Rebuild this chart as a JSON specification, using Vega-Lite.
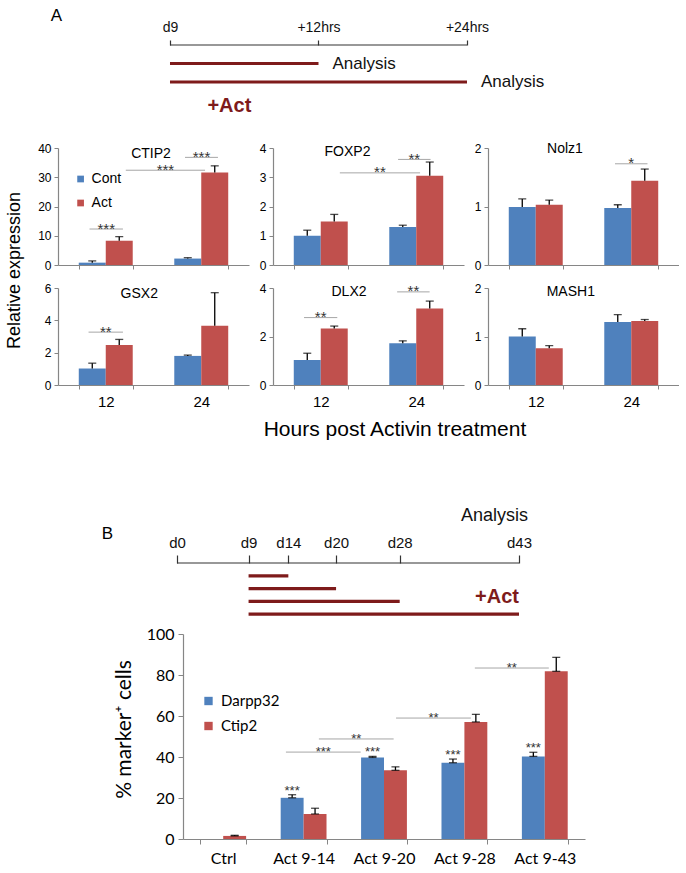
{
"$schema":"https://vega.github.io/schema/vega-lite/v6.json",
"background":"white",
"padding":{"left":4,"top":6,"right":0,"bottom":0},
"datasets":{
"expr":[
{"gene":"CTIP2","h":"12","cond":"Cont","value":0.8,"hi":1.4},
{"gene":"CTIP2","h":"12","cond":"Act","value":8.3,"hi":9.7},
{"gene":"CTIP2","h":"24","cond":"Cont","value":2.2,"hi":2.5},
{"gene":"CTIP2","h":"24","cond":"Act","value":31.6,"hi":33.9},
{"gene":"FOXP2","h":"12","cond":"Cont","value":1.0,"hi":1.19},
{"gene":"FOXP2","h":"12","cond":"Act","value":1.49,"hi":1.73},
{"gene":"FOXP2","h":"24","cond":"Cont","value":1.3,"hi":1.36},
{"gene":"FOXP2","h":"24","cond":"Act","value":3.05,"hi":3.52},
{"gene":"Nolz1","h":"12","cond":"Cont","value":0.99,"hi":1.13},
{"gene":"Nolz1","h":"12","cond":"Act","value":1.03,"hi":1.11},
{"gene":"Nolz1","h":"24","cond":"Cont","value":0.975,"hi":1.03},
{"gene":"Nolz1","h":"24","cond":"Act","value":1.44,"hi":1.64},
{"gene":"GSX2","h":"12","cond":"Cont","value":1.02,"hi":1.35},
{"gene":"GSX2","h":"12","cond":"Act","value":2.47,"hi":2.82},
{"gene":"GSX2","h":"24","cond":"Cont","value":1.8,"hi":1.85},
{"gene":"GSX2","h":"24","cond":"Act","value":3.67,"hi":5.71},
{"gene":"DLX2","h":"12","cond":"Cont","value":1.03,"hi":1.31},
{"gene":"DLX2","h":"12","cond":"Act","value":2.33,"hi":2.43},
{"gene":"DLX2","h":"24","cond":"Cont","value":1.72,"hi":1.82},
{"gene":"DLX2","h":"24","cond":"Act","value":3.15,"hi":3.46},
{"gene":"MASH1","h":"12","cond":"Cont","value":1.0,"hi":1.16},
{"gene":"MASH1","h":"12","cond":"Act","value":0.76,"hi":0.81},
{"gene":"MASH1","h":"24","cond":"Cont","value":1.3,"hi":1.45},
{"gene":"MASH1","h":"24","cond":"Act","value":1.32,"hi":1.35}
],
"sigA":[
{"gene":"CTIP2","x1":0.33,"x2":0.68,"y":12.3,"label":"***"},
{"gene":"CTIP2","x1":0.71,"x2":1.54,"y":32.4,"label":"***"},
{"gene":"CTIP2","x1":1.33,"x2":1.675,"y":36.8,"label":"***"},
{"gene":"FOXP2","x1":0.70,"x2":1.54,"y":3.15,"label":"**"},
{"gene":"FOXP2","x1":1.31,"x2":1.65,"y":3.61,"label":"**"},
{"gene":"Nolz1","x1":1.33,"x2":1.67,"y":1.73,"label":"*"},
{"gene":"GSX2","x1":0.32,"x2":0.68,"y":3.27,"label":"**"},
{"gene":"DLX2","x1":0.325,"x2":0.673,"y":2.78,"label":"**"},
{"gene":"DLX2","x1":1.30,"x2":1.64,"y":3.84,"label":"**"}
],
"cellsB":[
{"cat":"Ctrl","series":"Darpp32","value":0},
{"cat":"Ctrl","series":"Ctip2","value":1.5,"hi":1.8},
{"cat":"Act 9-14","series":"Darpp32","value":20.1,"hi":21.6,"sig":"***"},
{"cat":"Act 9-14","series":"Ctip2","value":12.2,"hi":15.0},
{"cat":"Act 9-20","series":"Darpp32","value":39.8,"hi":40.3,"sig":"***"},
{"cat":"Act 9-20","series":"Ctip2","value":33.5,"hi":35.2},
{"cat":"Act 9-28","series":"Darpp32","value":37.2,"hi":39.0,"sig":"***"},
{"cat":"Act 9-28","series":"Ctip2","value":57.1,"hi":60.8},
{"cat":"Act 9-43","series":"Darpp32","value":40.3,"hi":42.3,"sig":"***"},
{"cat":"Act 9-43","series":"Ctip2","value":81.8,"hi":88.6}
],
"sigB":[
{"x1":1.28,"x2":2.21,"y":42.4,"label":"***"},
{"x1":1.69,"x2":2.62,"y":48.8,"label":"**"},
{"x1":2.65,"x2":3.58,"y":59,"label":"**"},
{"x1":3.63,"x2":4.55,"y":83.4,"label":"**"}
]
},
"vconcat":[
{"vconcat":[
 {"width":409,"height":74,
  "layer":[
   {"data":{"values":[{"t0":0,"t1":24,"lane":0}]},
    "mark":{"type":"rule","color":"#333333","strokeWidth":1.2},
    "encoding":{
     "x":{"field":"t0","type":"quantitative","scale":{"domain":[-9.05,24],"nice":false,"zero":false},
      "axis":{"orient":"top","values":[0,12,24],"labelExpr":"datum.value == 0 ? 'd9' : datum.value == 12 ? '+12hrs' : '+24hrs'","domain":false,"tickColor":"#333333","tickWidth":1.2,"tickSize":5,"labelFont":"Liberation Sans Narrow, Arial Narrow, sans-serif","labelFontSize":14,"labelPadding":6,"labelColor":"#111111","labelFlush":false,"labelOverlap":false,"title":"A","titleX":-2,"titleY":-30,"titleAngle":0,"titleAlign":"center","titleBaseline":"middle","titleFontSize":17}},
     "x2":{"field":"t1"},
     "y":{"field":"lane","type":"quantitative","scale":{"domain":[0,4],"reverse":true,"nice":false,"zero":false},"axis":null}}},
   {"data":{"values":[{"t0":0,"t1":12,"lane":1,"label":"Analysis"},{"t0":0,"t1":24,"lane":2,"label":"Analysis"}]},
    "encoding":{"y":{"field":"lane","type":"quantitative","scale":{"domain":[0,4],"reverse":true,"nice":false,"zero":false},"axis":null}},
    "layer":[
     {"mark":{"type":"rule","color":"#7E1B1B","strokeWidth":3.2},
      "encoding":{"x":{"field":"t0","type":"quantitative","scale":{"domain":[-9.05,24],"nice":false,"zero":false}},"x2":{"field":"t1"}}},
     {"mark":{"type":"text","align":"left","dx":14,"baseline":"middle","font":"Liberation Sans","fontSize":17,"color":"#111111"},
      "encoding":{"x":{"field":"t1","type":"quantitative","scale":{"domain":[-9.05,24],"nice":false,"zero":false}},"text":{"field":"label"}}}
    ]},
   {"data":{"values":[{"t":4.8,"lane":3.3,"label":"+Act"}]},
    "mark":{"type":"text","baseline":"middle","font":"Liberation Sans Narrow, Arial Narrow, sans-serif","fontWeight":"bold","fontSize":20,"color":"#7E1B1B"},
    "encoding":{"x":{"field":"t","type":"quantitative","scale":{"domain":[-9.05,24],"nice":false,"zero":false}},
     "y":{"field":"lane","type":"quantitative","scale":{"domain":[0,4],"reverse":true,"nice":false,"zero":false},"axis":null},
     "text":{"field":"label"}}}
  ]},
 {"concat":[
  {"width":191,"height":117,
   "layer":[
    {"data":{"name":"expr"},"transform":[{"filter":"datum.gene === 'CTIP2'"}],
     "encoding":{
      "x":{"field":"h","type":"nominal","scale":{"domain":["12","24"],"paddingInner":0.435,"paddingOuter":0.2175},"axis":{"title":null,"labels":false,"tickBand":"extent"}},
      "xOffset":{"field":"cond","type":"nominal","scale":{"domain":["Cont","Act"]}}},
     "layer":[
      {"mark":"bar","encoding":{"y":{"field":"value","type":"quantitative","scale":{"domain":[0,40],"nice":false},"axis":{"values":[0,10,20,30,40],"title":null}},
        "color":{"field":"cond","type":"nominal","scale":{"domain":["Cont","Act"],"range":["#4F81BD","#C0504D"]},
         "legend":{"title":null,"orient":"none","legendX":15.6,"legendY":24,"symbolType":"square","symbolSize":45,"symbolStrokeWidth":0,"labelFont":"Liberation Sans","labelFontSize":14,"labelOffset":4,"rowPadding":10,"labelColor":"#000000"}}}},
      {"mark":{"type":"rule","color":"#000000","strokeWidth":1.3},"encoding":{"y":{"field":"value","type":"quantitative","scale":{"domain":[0,40],"nice":false},"axis":{"values":[0,10,20,30,40],"title":null}},"y2":{"field":"hi"}}},
      {"mark":{"type":"tick","color":"#000000","thickness":1.3,"size":8},"encoding":{"y":{"field":"hi","type":"quantitative","scale":{"domain":[0,40],"nice":false},"axis":{"values":[0,10,20,30,40],"title":null}}}}
     ]},
    {"layer":[
     {"data":{"name":"sigA"},"transform":[{"filter":"datum.gene === 'CTIP2'"},{"calculate":"(datum.x1 + datum.x2) / 2","as":"xm"}],
      "encoding":{"y":{"field":"y","type":"quantitative","scale":{"domain":[0,40],"nice":false},"axis":{"values":[0,10,20,30,40],"title":null}}},
      "layer":[
       {"mark":{"type":"rule","color":"#A6A6A6","strokeWidth":1},"encoding":{"x":{"field":"x1","type":"quantitative","scale":{"domain":[0,2],"nice":false,"zero":false},"axis":null},"x2":{"field":"x2"}}},
       {"mark":{"type":"text","fontSize":15,"dy":4.5,"baseline":"alphabetic","color":"#333333"},"encoding":{"x":{"field":"xm","type":"quantitative","scale":{"domain":[0,2],"nice":false,"zero":false},"axis":null},"text":{"field":"label"}}}
      ]},
     {"data":{"values":[{"name":"CTIP2"}]},"mark":{"type":"text","fontSize":14,"baseline":"middle","dy":6,"color":"#000000"},
      "encoding":{"x":{"datum":0.974,"type":"quantitative","scale":{"domain":[0,2],"nice":false,"zero":false},"axis":null},"y":{"datum":40,"type":"quantitative","scale":{"domain":[0,40],"nice":false},"axis":{"values":[0,10,20,30,40],"title":null}},"text":{"field":"name"}}}
    ]}
   ],
   "resolve":{"scale":{"x":"independent"}}},
  {"width":191,"height":117,
   "layer":[
    {"data":{"name":"expr"},"transform":[{"filter":"datum.gene === 'FOXP2'"}],
     "encoding":{
      "x":{"field":"h","type":"nominal","scale":{"domain":["12","24"],"paddingInner":0.435,"paddingOuter":0.2175},"axis":{"title":null,"labels":false,"tickBand":"extent"}},
      "xOffset":{"field":"cond","type":"nominal","scale":{"domain":["Cont","Act"]}}},
     "layer":[
      {"mark":"bar","encoding":{"y":{"field":"value","type":"quantitative","scale":{"domain":[0,4],"nice":false},"axis":{"values":[0,1,2,3,4],"title":null}},
        "color":{"field":"cond","type":"nominal","scale":{"domain":["Cont","Act"],"range":["#4F81BD","#C0504D"]},"legend":null}}},
      {"mark":{"type":"rule","color":"#000000","strokeWidth":1.3},"encoding":{"y":{"field":"value","type":"quantitative","scale":{"domain":[0,4],"nice":false},"axis":{"values":[0,1,2,3,4],"title":null}},"y2":{"field":"hi"}}},
      {"mark":{"type":"tick","color":"#000000","thickness":1.3,"size":8},"encoding":{"y":{"field":"hi","type":"quantitative","scale":{"domain":[0,4],"nice":false},"axis":{"values":[0,1,2,3,4],"title":null}}}}
     ]},
    {"layer":[
     {"data":{"name":"sigA"},"transform":[{"filter":"datum.gene === 'FOXP2'"},{"calculate":"(datum.x1 + datum.x2) / 2","as":"xm"}],
      "encoding":{"y":{"field":"y","type":"quantitative","scale":{"domain":[0,4],"nice":false},"axis":{"values":[0,1,2,3,4],"title":null}}},
      "layer":[
       {"mark":{"type":"rule","color":"#A6A6A6","strokeWidth":1},"encoding":{"x":{"field":"x1","type":"quantitative","scale":{"domain":[0,2],"nice":false,"zero":false},"axis":null},"x2":{"field":"x2"}}},
       {"mark":{"type":"text","fontSize":15,"dy":4.5,"baseline":"alphabetic","color":"#333333"},"encoding":{"x":{"field":"xm","type":"quantitative","scale":{"domain":[0,2],"nice":false,"zero":false},"axis":null},"text":{"field":"label"}}}
      ]},
     {"data":{"values":[{"name":"FOXP2"}]},"mark":{"type":"text","fontSize":14,"baseline":"middle","dy":4.3,"color":"#000000"},
      "encoding":{"x":{"datum":0.78,"type":"quantitative","scale":{"domain":[0,2],"nice":false,"zero":false},"axis":null},"y":{"datum":4,"type":"quantitative","scale":{"domain":[0,4],"nice":false},"axis":{"values":[0,1,2,3,4],"title":null}},"text":{"field":"name"}}}
    ]}
   ],
   "resolve":{"scale":{"x":"independent"}}},
  {"width":191,"height":117,
   "layer":[
    {"data":{"name":"expr"},"transform":[{"filter":"datum.gene === 'Nolz1'"}],
     "encoding":{
      "x":{"field":"h","type":"nominal","scale":{"domain":["12","24"],"paddingInner":0.435,"paddingOuter":0.2175},"axis":{"title":null,"labels":false,"tickBand":"extent"}},
      "xOffset":{"field":"cond","type":"nominal","scale":{"domain":["Cont","Act"]}}},
     "layer":[
      {"mark":"bar","encoding":{"y":{"field":"value","type":"quantitative","scale":{"domain":[0,2],"nice":false},"axis":{"values":[0,1,2],"labelExpr":"'' + datum.value","title":null}},
        "color":{"field":"cond","type":"nominal","scale":{"domain":["Cont","Act"],"range":["#4F81BD","#C0504D"]},"legend":null}}},
      {"mark":{"type":"rule","color":"#000000","strokeWidth":1.3},"encoding":{"y":{"field":"value","type":"quantitative","scale":{"domain":[0,2],"nice":false},"axis":{"values":[0,1,2],"labelExpr":"'' + datum.value","title":null}},"y2":{"field":"hi"}}},
      {"mark":{"type":"tick","color":"#000000","thickness":1.3,"size":8},"encoding":{"y":{"field":"hi","type":"quantitative","scale":{"domain":[0,2],"nice":false},"axis":{"values":[0,1,2],"labelExpr":"'' + datum.value","title":null}}}}
     ]},
    {"layer":[
     {"data":{"name":"sigA"},"transform":[{"filter":"datum.gene === 'Nolz1'"},{"calculate":"(datum.x1 + datum.x2) / 2","as":"xm"}],
      "encoding":{"y":{"field":"y","type":"quantitative","scale":{"domain":[0,2],"nice":false},"axis":{"values":[0,1,2],"labelExpr":"'' + datum.value","title":null}}},
      "layer":[
       {"mark":{"type":"rule","color":"#A6A6A6","strokeWidth":1},"encoding":{"x":{"field":"x1","type":"quantitative","scale":{"domain":[0,2],"nice":false,"zero":false},"axis":null},"x2":{"field":"x2"}}},
       {"mark":{"type":"text","fontSize":15,"dy":4.5,"baseline":"alphabetic","color":"#333333"},"encoding":{"x":{"field":"xm","type":"quantitative","scale":{"domain":[0,2],"nice":false,"zero":false},"axis":null},"text":{"field":"label"}}}
      ]},
     {"data":{"values":[{"name":"Nolz1"}]},"mark":{"type":"text","fontSize":14,"baseline":"middle","dy":1,"color":"#000000"},
      "encoding":{"x":{"datum":0.806,"type":"quantitative","scale":{"domain":[0,2],"nice":false,"zero":false},"axis":null},"y":{"datum":2,"type":"quantitative","scale":{"domain":[0,2],"nice":false},"axis":{"values":[0,1,2],"labelExpr":"'' + datum.value","title":null}},"text":{"field":"name"}}}
    ]}
   ],
   "resolve":{"scale":{"x":"independent"}}},
  {"width":191,"height":97,
   "layer":[
    {"data":{"name":"expr"},"transform":[{"filter":"datum.gene === 'GSX2'"}],
     "encoding":{
      "x":{"field":"h","type":"nominal","scale":{"domain":["12","24"],"paddingInner":0.435,"paddingOuter":0.2175},"axis":{"title":null,"tickBand":"extent","labelAngle":0,"labelFontSize":15,"labelPadding":5}},
      "xOffset":{"field":"cond","type":"nominal","scale":{"domain":["Cont","Act"]}}},
     "layer":[
      {"mark":"bar","encoding":{"y":{"field":"value","type":"quantitative","scale":{"domain":[0,6],"nice":false},"axis":{"values":[0,2,4,6],"title":"Relative expression","titleX":-44,"titleY":-18,"titleFontSize":18,"titleBaseline":"middle","titleAlign":"center"}},
        "color":{"field":"cond","type":"nominal","scale":{"domain":["Cont","Act"],"range":["#4F81BD","#C0504D"]},"legend":null}}},
      {"mark":{"type":"rule","color":"#000000","strokeWidth":1.3},"encoding":{"y":{"field":"value","type":"quantitative","scale":{"domain":[0,6],"nice":false},"axis":{"values":[0,2,4,6],"title":"Relative expression","titleX":-44,"titleY":-18,"titleFontSize":18,"titleBaseline":"middle","titleAlign":"center"}},"y2":{"field":"hi"}}},
      {"mark":{"type":"tick","color":"#000000","thickness":1.3,"size":8},"encoding":{"y":{"field":"hi","type":"quantitative","scale":{"domain":[0,6],"nice":false},"axis":{"values":[0,2,4,6],"title":"Relative expression","titleX":-44,"titleY":-18,"titleFontSize":18,"titleBaseline":"middle","titleAlign":"center"}}}}
     ]},
    {"layer":[
     {"data":{"name":"sigA"},"transform":[{"filter":"datum.gene === 'GSX2'"},{"calculate":"(datum.x1 + datum.x2) / 2","as":"xm"}],
      "encoding":{"y":{"field":"y","type":"quantitative","scale":{"domain":[0,6],"nice":false},"axis":{"values":[0,2,4,6],"title":"Relative expression","titleX":-44,"titleY":-18,"titleFontSize":18,"titleBaseline":"middle","titleAlign":"center"}}},
      "layer":[
       {"mark":{"type":"rule","color":"#A6A6A6","strokeWidth":1},"encoding":{"x":{"field":"x1","type":"quantitative","scale":{"domain":[0,2],"nice":false,"zero":false},"axis":null},"x2":{"field":"x2"}}},
       {"mark":{"type":"text","fontSize":15,"dy":4.5,"baseline":"alphabetic","color":"#333333"},"encoding":{"x":{"field":"xm","type":"quantitative","scale":{"domain":[0,2],"nice":false,"zero":false},"axis":null},"text":{"field":"label"}}}
      ]},
     {"data":{"values":[{"name":"GSX2"}]},"mark":{"type":"text","fontSize":14,"baseline":"middle","dy":6,"color":"#000000"},
      "encoding":{"x":{"datum":0.851,"type":"quantitative","scale":{"domain":[0,2],"nice":false,"zero":false},"axis":null},"y":{"datum":6,"type":"quantitative","scale":{"domain":[0,6],"nice":false},"axis":{"values":[0,2,4,6],"title":"Relative expression","titleX":-44,"titleY":-18,"titleFontSize":18,"titleBaseline":"middle","titleAlign":"center"}},"text":{"field":"name"}}}
    ]}
   ],
   "resolve":{"scale":{"x":"independent"}}},
  {"width":191,"height":97,
   "layer":[
    {"data":{"name":"expr"},"transform":[{"filter":"datum.gene === 'DLX2'"}],
     "encoding":{
      "x":{"field":"h","type":"nominal","scale":{"domain":["12","24"],"paddingInner":0.435,"paddingOuter":0.2175},"axis":{"tickBand":"extent","labelAngle":0,"labelFontSize":15,"labelPadding":5,"title":"Hours post Activin treatment","titleX":121.5,"titleY":44,"titleFontSize":21,"titleBaseline":"middle","titleAlign":"center"}},
      "xOffset":{"field":"cond","type":"nominal","scale":{"domain":["Cont","Act"]}}},
     "layer":[
      {"mark":"bar","encoding":{"y":{"field":"value","type":"quantitative","scale":{"domain":[0,4],"nice":false},"axis":{"values":[0,2,4],"title":null}},
        "color":{"field":"cond","type":"nominal","scale":{"domain":["Cont","Act"],"range":["#4F81BD","#C0504D"]},"legend":null}}},
      {"mark":{"type":"rule","color":"#000000","strokeWidth":1.3},"encoding":{"y":{"field":"value","type":"quantitative","scale":{"domain":[0,4],"nice":false},"axis":{"values":[0,2,4],"title":null}},"y2":{"field":"hi"}}},
      {"mark":{"type":"tick","color":"#000000","thickness":1.3,"size":8},"encoding":{"y":{"field":"hi","type":"quantitative","scale":{"domain":[0,4],"nice":false},"axis":{"values":[0,2,4],"title":null}}}}
     ]},
    {"layer":[
     {"data":{"name":"sigA"},"transform":[{"filter":"datum.gene === 'DLX2'"},{"calculate":"(datum.x1 + datum.x2) / 2","as":"xm"}],
      "encoding":{"y":{"field":"y","type":"quantitative","scale":{"domain":[0,4],"nice":false},"axis":{"values":[0,2,4],"title":null}}},
      "layer":[
       {"mark":{"type":"rule","color":"#A6A6A6","strokeWidth":1},"encoding":{"x":{"field":"x1","type":"quantitative","scale":{"domain":[0,2],"nice":false,"zero":false},"axis":null},"x2":{"field":"x2"}}},
       {"mark":{"type":"text","fontSize":15,"dy":4.5,"baseline":"alphabetic","color":"#333333"},"encoding":{"x":{"field":"xm","type":"quantitative","scale":{"domain":[0,2],"nice":false,"zero":false},"axis":null},"text":{"field":"label"}}}
      ]},
     {"data":{"values":[{"name":"DLX2"}]},"mark":{"type":"text","fontSize":14,"baseline":"middle","dy":4.3,"color":"#000000"},
      "encoding":{"x":{"datum":0.796,"type":"quantitative","scale":{"domain":[0,2],"nice":false,"zero":false},"axis":null},"y":{"datum":4,"type":"quantitative","scale":{"domain":[0,4],"nice":false},"axis":{"values":[0,2,4],"title":null}},"text":{"field":"name"}}}
    ]}
   ],
   "resolve":{"scale":{"x":"independent"}}},
  {"width":191,"height":97,
   "layer":[
    {"data":{"name":"expr"},"transform":[{"filter":"datum.gene === 'MASH1'"}],
     "encoding":{
      "x":{"field":"h","type":"nominal","scale":{"domain":["12","24"],"paddingInner":0.435,"paddingOuter":0.2175},"axis":{"title":null,"tickBand":"extent","labelAngle":0,"labelFontSize":15,"labelPadding":5}},
      "xOffset":{"field":"cond","type":"nominal","scale":{"domain":["Cont","Act"]}}},
     "layer":[
      {"mark":"bar","encoding":{"y":{"field":"value","type":"quantitative","scale":{"domain":[0,2],"nice":false},"axis":{"values":[0,1,2],"labelExpr":"'' + datum.value","title":null}},
        "color":{"field":"cond","type":"nominal","scale":{"domain":["Cont","Act"],"range":["#4F81BD","#C0504D"]},"legend":null}}},
      {"mark":{"type":"rule","color":"#000000","strokeWidth":1.3},"encoding":{"y":{"field":"value","type":"quantitative","scale":{"domain":[0,2],"nice":false},"axis":{"values":[0,1,2],"labelExpr":"'' + datum.value","title":null}},"y2":{"field":"hi"}}},
      {"mark":{"type":"tick","color":"#000000","thickness":1.3,"size":8},"encoding":{"y":{"field":"hi","type":"quantitative","scale":{"domain":[0,2],"nice":false},"axis":{"values":[0,1,2],"labelExpr":"'' + datum.value","title":null}}}}
     ]},
    {"data":{"values":[{"name":"MASH1"}]},"mark":{"type":"text","fontSize":14,"baseline":"middle","dy":4.3,"color":"#000000"},
     "encoding":{"x":{"datum":0.867,"type":"quantitative","scale":{"domain":[0,2],"nice":false,"zero":false},"axis":null},"y":{"datum":2,"type":"quantitative","scale":{"domain":[0,2],"nice":false},"axis":{"values":[0,1,2],"labelExpr":"'' + datum.value","title":null}},"text":{"field":"name"}}}
   ],
   "resolve":{"scale":{"x":"independent"}}}
 ],
 "columns":3,"spacing":{"row":23,"column":24},"bounds":"flush",
 "resolve":{"scale":{"color":"independent","xOffset":"independent"},"legend":{"color":"independent"}}}
],
"spacing":23,"bounds":"full",
"resolve":{"scale":{"color":"independent","xOffset":"independent"},"legend":{"color":"independent"}}},
{"vconcat":[
 {"width":461,"height":55,
  "layer":[
   {"data":{"values":[{"t0":0,"t1":43,"lane":0}]},
    "mark":{"type":"rule","color":"#333333","strokeWidth":1.2},
    "encoding":{
     "x":{"field":"t0","type":"quantitative","scale":{"domain":[-14.96,43],"nice":false,"zero":false},
      "axis":{"orient":"top","values":[0,9,14,20,28,43],"labelExpr":"'d' + datum.value","domain":false,"tickColor":"#333333","tickWidth":1.2,"tickSize":8,"labelFont":"Liberation Sans Narrow, Arial Narrow, sans-serif","labelFontSize":15,"labelPadding":5,"labelColor":"#111111","labelFlush":false,"labelOverlap":false,"title":"B","titleX":49,"titleY":-30,"titleAngle":0,"titleAlign":"center","titleBaseline":"middle","titleFontSize":17}},
     "x2":{"field":"t1"},
     "y":{"field":"lane","type":"quantitative","scale":{"domain":[0,4.3],"reverse":true,"nice":false,"zero":false},"axis":null}}},
   {"data":{"values":[{"t0":9,"t1":14,"lane":1},{"t0":9,"t1":20,"lane":2},{"t0":9,"t1":28,"lane":3},{"t0":9,"t1":43,"lane":4}]},
    "mark":{"type":"rule","color":"#7E1B1B","strokeWidth":3.2},
    "encoding":{"x":{"field":"t0","type":"quantitative","scale":{"domain":[-14.96,43],"nice":false,"zero":false}},"x2":{"field":"t1"},
     "y":{"field":"lane","type":"quantitative","scale":{"domain":[0,4.3],"reverse":true,"nice":false,"zero":false},"axis":null}}},
   {"data":{"values":[{"t":43,"lane":-3.7,"label":"Analysis"}]},
    "mark":{"type":"text","align":"right","dx":9,"baseline":"middle","font":"Liberation Sans","fontSize":18,"color":"#111111"},
    "encoding":{"x":{"field":"t","type":"quantitative","scale":{"domain":[-14.96,43],"nice":false,"zero":false}},
     "y":{"field":"lane","type":"quantitative","scale":{"domain":[0,4.3],"reverse":true,"nice":false,"zero":false},"axis":null},
     "text":{"field":"label"}}},
   {"data":{"values":[{"t":43,"lane":2.68,"label":"+Act"}]},
    "mark":{"type":"text","align":"right","baseline":"middle","font":"Liberation Sans Narrow, Arial Narrow, sans-serif","fontWeight":"bold","fontSize":20,"color":"#7E1B1B"},
    "encoding":{"x":{"field":"t","type":"quantitative","scale":{"domain":[-14.96,43],"nice":false,"zero":false}},
     "y":{"field":"lane","type":"quantitative","scale":{"domain":[0,4.3],"reverse":true,"nice":false,"zero":false},"axis":null},
     "text":{"field":"label"}}}
  ]},
 {"hconcat":[
  {"width":1,"height":205,"data":{"values":[]},"mark":"point"},
  {"width":402,"height":205,
   "layer":[
    {"data":{"name":"cellsB"},
     "encoding":{
      "x":{"field":"cat","type":"nominal","scale":{"domain":["Ctrl","Act 9-14","Act 9-20","Act 9-28","Act 9-43"],"paddingInner":0.43,"paddingOuter":0.215},"axis":{"title":null,"tickBand":"extent","labelAngle":0,"labelFont":"Lato","labelFontSize":16,"labelPadding":6,"tickSize":5}},
      "xOffset":{"field":"series","type":"nominal","scale":{"domain":["Darpp32","Ctip2"]}}},
     "layer":[
      {"mark":"bar","encoding":{"y":{"field":"value","type":"quantitative","scale":{"domain":[0,100],"nice":false},"axis":{"values":[0,20,40,60,80,100],"title":"% marker⁺ cells","titleFont":"Lato","titleFontSize":21,"titleX":-59,"titleY":95,"titleBaseline":"middle","titleAlign":"center","labelFont":"Lato","labelFontSize":16,"labelPadding":4,"tickSize":5}},
        "color":{"field":"series","type":"nominal","scale":{"domain":["Darpp32","Ctip2"],"range":["#4F81BD","#C0504D"]},
         "legend":{"title":null,"orient":"none","legendX":18,"legendY":59.5,"symbolType":"square","symbolSize":70,"symbolStrokeWidth":0,"labelFont":"Lato","labelFontSize":15,"labelOffset":5,"rowPadding":9,"labelColor":"#000000"}}}},
      {"transform":[{"filter":"datum.hi != null"}],"mark":{"type":"rule","color":"#000000","strokeWidth":1.3},"encoding":{"y":{"field":"value","type":"quantitative","scale":{"domain":[0,100],"nice":false},"axis":{"values":[0,20,40,60,80,100],"title":"% marker⁺ cells","titleFont":"Lato","titleFontSize":21,"titleX":-59,"titleY":95,"titleBaseline":"middle","titleAlign":"center","labelFont":"Lato","labelFontSize":16,"labelPadding":4,"tickSize":5}},"y2":{"field":"hi"}}},
      {"transform":[{"filter":"datum.hi != null"}],"mark":{"type":"tick","color":"#000000","thickness":1.3,"size":8},"encoding":{"y":{"field":"hi","type":"quantitative","scale":{"domain":[0,100],"nice":false},"axis":{"values":[0,20,40,60,80,100],"title":"% marker⁺ cells","titleFont":"Lato","titleFontSize":21,"titleX":-59,"titleY":95,"titleBaseline":"middle","titleAlign":"center","labelFont":"Lato","labelFontSize":16,"labelPadding":4,"tickSize":5}}}},
      {"transform":[{"filter":"datum.hi != null"}],"mark":{"type":"tick","color":"#000000","thickness":1.3,"size":8},"encoding":{"y":{"field":"value","type":"quantitative","scale":{"domain":[0,100],"nice":false},"axis":{"values":[0,20,40,60,80,100],"title":"% marker⁺ cells","titleFont":"Lato","titleFontSize":21,"titleX":-59,"titleY":95,"titleBaseline":"middle","titleAlign":"center","labelFont":"Lato","labelFontSize":16,"labelPadding":4,"tickSize":5}}}},
      {"transform":[{"filter":"datum.sig != null"}],"mark":{"type":"text","fontSize":13,"baseline":"alphabetic","dy":0,"color":"#333333"},"encoding":{"y":{"field":"hi","type":"quantitative","scale":{"domain":[0,100],"nice":false},"axis":{"values":[0,20,40,60,80,100],"title":"% marker⁺ cells","titleFont":"Lato","titleFontSize":21,"titleX":-59,"titleY":95,"titleBaseline":"middle","titleAlign":"center","labelFont":"Lato","labelFontSize":16,"labelPadding":4,"tickSize":5}},"text":{"field":"sig"}}}
     ]},
    {"data":{"name":"sigB"},"transform":[{"calculate":"(datum.x1 + datum.x2) / 2","as":"xm"}],
     "encoding":{"y":{"field":"y","type":"quantitative","scale":{"domain":[0,100],"nice":false},"axis":{"values":[0,20,40,60,80,100],"title":"% marker⁺ cells","titleFont":"Lato","titleFontSize":21,"titleX":-59,"titleY":95,"titleBaseline":"middle","titleAlign":"center","labelFont":"Lato","labelFontSize":16,"labelPadding":4,"tickSize":5}}},
     "layer":[
      {"mark":{"type":"rule","color":"#A6A6A6","strokeWidth":1},"encoding":{"x":{"field":"x1","type":"quantitative","scale":{"domain":[0,5],"nice":false,"zero":false},"axis":null},"x2":{"field":"x2"}}},
      {"mark":{"type":"text","fontSize":13,"dy":4,"baseline":"alphabetic","color":"#333333"},"encoding":{"x":{"field":"xm","type":"quantitative","scale":{"domain":[0,5],"nice":false,"zero":false},"axis":null},"text":{"field":"label"}}}
     ]}
   ],
   "resolve":{"scale":{"x":"independent"}}}
 ],"spacing":124,"bounds":"flush",
 "resolve":{"scale":{"color":"independent","xOffset":"independent"},"legend":{"color":"independent"}}}
],
"spacing":8,"bounds":"full",
"resolve":{"scale":{"color":"independent","xOffset":"independent"},"legend":{"color":"independent"}}}
],
"spacing":67,"bounds":"full",
"resolve":{"scale":{"color":"independent","xOffset":"independent"},"legend":{"color":"independent"}},
"config":{
 "view":{"stroke":null},
 "font":"Liberation Sans",
 "axis":{"grid":false,"domainColor":"#868686","tickColor":"#868686","domainWidth":1.2,"labelColor":"#000000","titleColor":"#000000","titleFontWeight":"normal","labelFont":"Liberation Sans","titleFont":"Liberation Sans","tickSize":4,"labelFontSize":12,"labelPadding":3}
}
}
